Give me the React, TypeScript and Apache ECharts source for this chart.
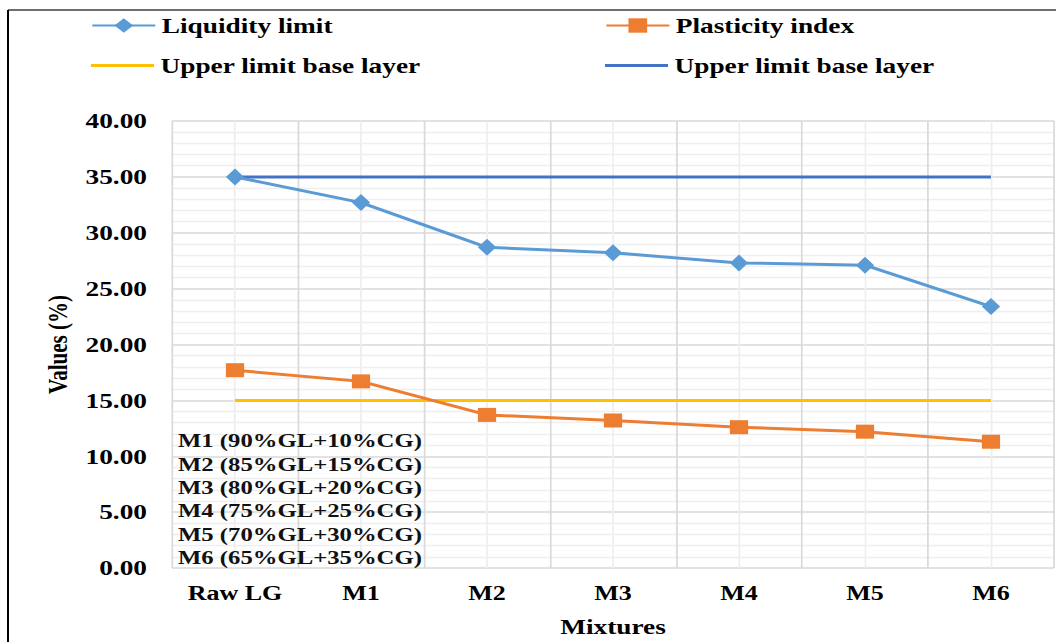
import React, { useEffect, useRef } from "react";
import * as echarts from "echarts";

const categories = ["Raw LG", "M1", "M2", "M3", "M4", "M5", "M6"];
const liquidityLimit = [35.0, 32.7, 28.7, 28.2, 27.3, 27.1, 23.4];
const plasticityIndex = [17.7, 16.7, 13.7, 13.2, 12.6, 12.2, 11.3];
const upperLimitYellow = [15, 15, 15, 15, 15, 15, 15];
const upperLimitBlue = [35, 35, 35, 35, 35, 35, 35];
const mixtureNotes = [
  "M1 (90%GL+10%CG)",
  "M2 (85%GL+15%CG)",
  "M3 (80%GL+20%CG)",
  "M4 (75%GL+25%CG)",
  "M5 (70%GL+30%CG)",
  "M6 (65%GL+35%CG)",
];

const FULL_W = 1056;
const H = 642;
const DW = 812;
const S = FULL_W / DW;
const X = (px: number) => px / S;

const FONT = "'Liberation Serif', 'Times New Roman', serif";

export default function App() {
  const ref = useRef<HTMLDivElement>(null);

  useEffect(() => {
    document.body.style.margin = "0";
    if (!ref.current) return;
    const chart = echarts.init(ref.current, null, { renderer: "svg" });
    const legendText = {
      fontFamily: FONT,
      fontWeight: "bold" as const,
      fontSize: 21,
      color: "#000",
    };
    const mkLegend = (name: string, left: number, top: number, icon?: string) => ({
      data: [name],
      left: X(left),
      top,
      padding: 0,
      itemWidth: X(63),
      itemHeight: icon ? 3 : 18,
      icon,
      textStyle: legendText,
      formatter: (n: string) => n.trim(),
      selectedMode: false,
    });
    chart.setOption({
      animation: false,
      backgroundColor: "#fff",
      legend: [
        mkLegend("Liquidity limit", 91, 15),
        mkLegend("Plasticity index", 605, 15),
        mkLegend("Upper limit base layer", 91, 55, "rect"),
        mkLegend("Upper limit base layer ", 605, 55, "rect"),
      ],
      grid: {
        left: X(172),
        right: DW - X(1054),
        top: 121,
        bottom: 73,
      },
      xAxis: [
        {
          type: "category",
          data: categories,
          boundaryGap: true,
          axisLine: { show: false },
          axisTick: { show: false },
          splitLine: { show: false },
          axisLabel: {
            margin: 15,
            fontFamily: FONT,
            fontWeight: "bold",
            fontSize: 20,
            color: "#000",
          },
          name: "Mixtures",
          nameLocation: "middle",
          nameGap: 48,
          nameTextStyle: {
            fontFamily: FONT,
            fontWeight: "bold",
            fontSize: 21,
            color: "#000",
          },
        },
        {
          type: "value",
          min: 0,
          max: 14,
          interval: 2,
          position: "bottom",
          axisLine: { show: false },
          axisTick: { show: false },
          axisLabel: { show: false },
          splitLine: { show: true, lineStyle: { color: "#d9d9d9", width: 1.3 } },
          minorTick: { show: false, splitNumber: 2 },
          minorSplitLine: { show: true, lineStyle: { color: "#eeeeee", width: 1.3 } },
        },
      ],
      yAxis: {
        type: "value",
        min: 0,
        max: 40,
        interval: 5,
        axisLine: { show: false },
        axisTick: { show: false },
        splitLine: { show: true, lineStyle: { color: "#d9d9d9", width: 1.5 } },
        minorTick: { show: false, splitNumber: 5 },
        minorSplitLine: { show: true, lineStyle: { color: "#eeeeee", width: 1.3 } },
        axisLabel: {
          margin: X(25),
          formatter: (v: number) => v.toFixed(2),
          fontFamily: FONT,
          fontWeight: "bold",
          fontSize: 21,
          color: "#000",
        },
        name: "Values (%)",
        nameLocation: "middle",
        nameGap: X(95),
        nameTextStyle: {
          fontFamily: FONT,
          fontWeight: "bold",
          fontSize: 21,
          color: "#000",
        },
      },
      graphic: [
        {
          type: "line",
          shape: { x1: X(8), y1: 10, x2: DW, y2: 10 },
          style: { stroke: "#6e6e6e", lineWidth: 2 },
        },
        {
          type: "line",
          shape: { x1: X(8), y1: 10, x2: X(8), y2: H },
          style: { stroke: "#000", lineWidth: X(2) },
        },
        {
          type: "text",
          left: X(178),
          top: 429,
          z: 10,
          style: {
            text: mixtureNotes.join("\n"),
            fontFamily: FONT,
            fontWeight: "bold",
            fontSize: 19,
            lineHeight: 23.4,
            fill: "#111",
          },
        },
      ],
      series: [
        {
          name: "Liquidity limit",
          type: "line",
          data: liquidityLimit,
          symbol: "diamond",
          symbolSize: [14, 17],
          lineStyle: { color: "#5B9BD5", width: 3 },
          itemStyle: { color: "#5B9BD5" },
          z: 5,
        },
        {
          name: "Plasticity index",
          type: "line",
          data: plasticityIndex,
          symbol: "rect",
          symbolSize: [14, 14],
          lineStyle: { color: "#ED7D31", width: 3 },
          itemStyle: { color: "#ED7D31" },
          z: 5,
        },
        {
          name: "Upper limit base layer",
          type: "line",
          data: upperLimitYellow,
          symbol: "none",
          lineStyle: { color: "#FFC000", width: 3 },
          itemStyle: { color: "#FFC000" },
          z: 3,
        },
        {
          name: "Upper limit base layer ",
          type: "line",
          data: upperLimitBlue,
          symbol: "none",
          lineStyle: { color: "#4472C4", width: 3 },
          itemStyle: { color: "#4472C4" },
          z: 3,
        },
      ],
    });
    return () => chart.dispose();
  }, []);

  return (
    <div style={{ width: FULL_W, height: H, overflow: "hidden", position: "relative", background: "#fff" }}>
      <div
        ref={ref}
        style={{
          width: DW,
          height: H,
          transform: `scaleX(${S})`,
          transformOrigin: "0 0",
        }}
      />
    </div>
  );
}
